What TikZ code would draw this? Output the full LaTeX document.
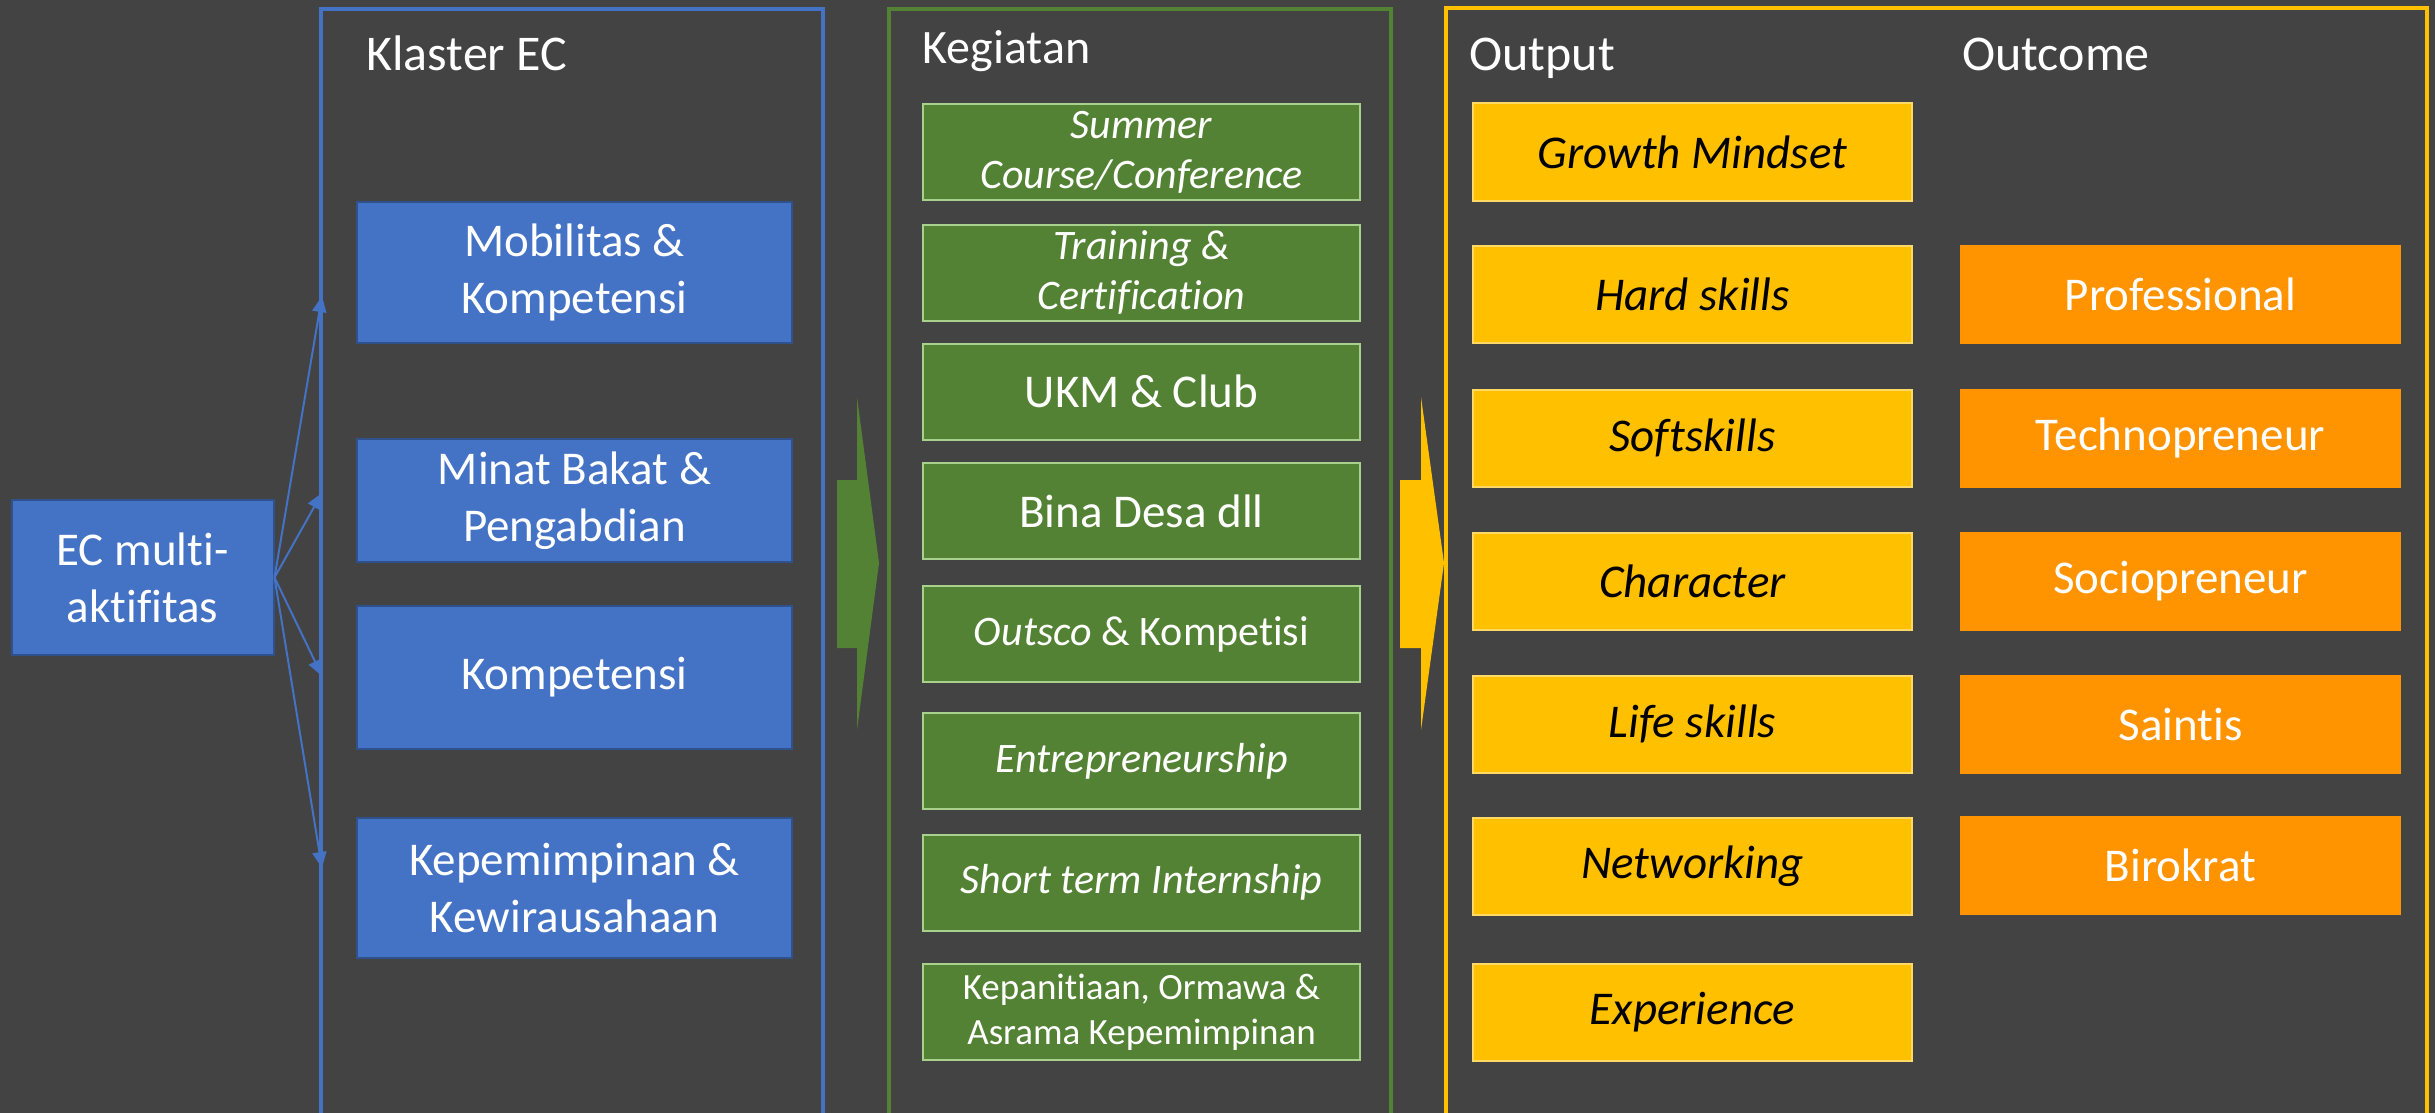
\documentclass[tikz,border=0pt]{standalone}
\usepackage{fontspec}
\setmainfont{Carlito}[Ligatures=NoCommon]
\usetikzlibrary{arrows.meta}
\definecolor{bg}{HTML}{434343}
\definecolor{cblue}{HTML}{4472C4}
\definecolor{cbluedk}{HTML}{2F528F}
\definecolor{cgreen}{HTML}{548235}
\definecolor{cgreenlt}{HTML}{A9D18E}
\definecolor{cyellow}{HTML}{FFC000}
\definecolor{cyellowlt}{HTML}{FFD966}
\definecolor{corange}{HTML}{FF9300}
\begin{document}
\begin{tikzpicture}[x=0.5pt,y=-0.5pt,
  box/.style={rectangle, inner sep=0pt, align=center, line width=1pt},
  bluebox/.style={box, fill=cblue, draw=cbluedk, text=white, minimum width=217.5pt,
    font=\fontsize{23.5}{28.5}\selectfont},
  greenbox/.style={box, fill=cgreen, draw=cgreenlt, text=white, minimum width=218.5pt,
    minimum height=48pt, font=\fontsize{21}{25}\selectfont},
  greenbig/.style={greenbox, font=\fontsize{23.5}{28.5}\selectfont},
  greensmall/.style={greenbox, font=\fontsize{18.5}{22.5}\selectfont},
  yellowbox/.style={box, fill=cyellow, draw=cyellowlt, text=black, minimum width=219.5pt,
    minimum height=48.5pt, font=\fontsize{23.5}{28.5}\selectfont\itshape},
  orangebox/.style={box, fill=corange, draw=corange, text=white, minimum width=219.5pt,
    minimum height=48.5pt, font=\fontsize{23.5}{28.5}\selectfont},
  title/.style={anchor=base west, inner sep=0pt, text=white, font=\fontsize{25}{30}\selectfont},
  frame/.style={line width=2pt},
  link/.style={draw=cblue, line width=1pt, -{Triangle[length=8pt,width=7pt]}}
]
\useasboundingbox (0,0) rectangle (2435,1113);
\clip (0,0) rectangle (2435,1113);
\fill[bg] (0,0) rectangle (2435,1113);

% frames
\draw[frame, cblue] (321,1130) -- (321,9) -- (823,9) -- (823,1130);
\draw[frame, cgreen] (889,1130) -- (889,9) -- (1391,9) -- (1391,1130);
\draw[frame, cyellow] (1446,1130) -- (1446,8) -- (2427,8) -- (2427,1130);

% titles
\node[title] (tklaster) at (366,71) {Klaster EC};
\node[title, font=\fontsize{24}{29}\selectfont] (tkeg) at (922,64) {Kegiatan};
\node[title] (tout) at (1469,71) {Output};
\node[title] (toutc) at (1962,71) {Outcome};

% source
\node[bluebox, minimum width=131pt, minimum height=77.5pt] (ec) at (142.5,577.5) {EC multi-\\aktifitas};

% klaster
\node[bluebox, minimum height=70.5pt] (mob) at (574.5,272.5) {Mobilitas \&\\Kompetensi};
\node[bluebox, minimum height=61.5pt] (minat) at (574.5,500.5) {Minat Bakat \&\\Pengabdian};
\node[bluebox, minimum height=71.5pt] (komp) at (574.5,677.5) {Kompetensi};
\node[bluebox, minimum height=70pt] (kepem) at (574.5,888) {Kepemimpinan \&\\Kewirausahaan};

\coordinate (t1) at (322,296);
\coordinate (t2) at (322,493);
\coordinate (t3) at (322,676);
\coordinate (t4) at (322,868);
\draw[link] (ec.east) -- (t1);
\draw[link] (ec.east) -- (t2);
\draw[link] (ec.east) -- (t3);
\draw[link] (ec.east) -- (t4);

% block arrows
\fill[cgreen] (837,480) -- (857,480) -- (857,397) -- (879,563) -- (857,730) -- (857,648) -- (837,648) -- cycle;
\fill[cyellow] (1400,480) -- (1421,480) -- (1421,397) -- (1444,563) -- (1421,730) -- (1421,648) -- (1400,648) -- cycle;

% kegiatan
\node[greenbox] (summer) at (1141.5,152) {\itshape Summer\\\itshape Course/Conference};
\node[greenbox] (train) at (1141.5,272.5) {\itshape Training \&\\\itshape Certification};
\node[greenbig] (ukm) at (1141.5,391.5) {UKM \& Club};
\node[greenbig] (bina) at (1141.5,511) {Bina Desa dll};
\node[greenbox] (outsco) at (1141.5,634) {\textit{Outsco} \& Kompetisi};
\node[greenbox] (entre) at (1141.5,761) {\itshape Entrepreneurship};
\node[greenbox] (short) at (1141.5,882.5) {\itshape Short term Internship};
\node[greensmall] (kepan) at (1141.5,1012) {Kepanitiaan, Ormawa \&\\Asrama Kepemimpinan};

% output
\node[yellowbox] (growth) at (1692.5,152) {Growth Mindset};
\node[yellowbox] (hard) at (1692.5,294) {Hard skills};
\node[yellowbox] (soft) at (1692.5,438) {Softskills};
\node[yellowbox] (char) at (1692.5,581) {Character};
\node[yellowbox] (life) at (1692.5,724) {Life skills};
\node[yellowbox] (net) at (1692.5,866.5) {Networking};
\node[yellowbox] (exp) at (1692.5,1012) {Experience};

% outcome
\node[orangebox] (prof) at (2180.5,294) {Professional};
\node[orangebox] (techno) at (2180.5,438) {Technopreneur};
\node[orangebox] (socio) at (2180.5,581) {Sociopreneur};
\node[orangebox] (saintis) at (2180.5,724) {Saintis};
\node[orangebox] (biro) at (2180.5,865.5) {Birokrat};
\end{tikzpicture}
\end{document}
